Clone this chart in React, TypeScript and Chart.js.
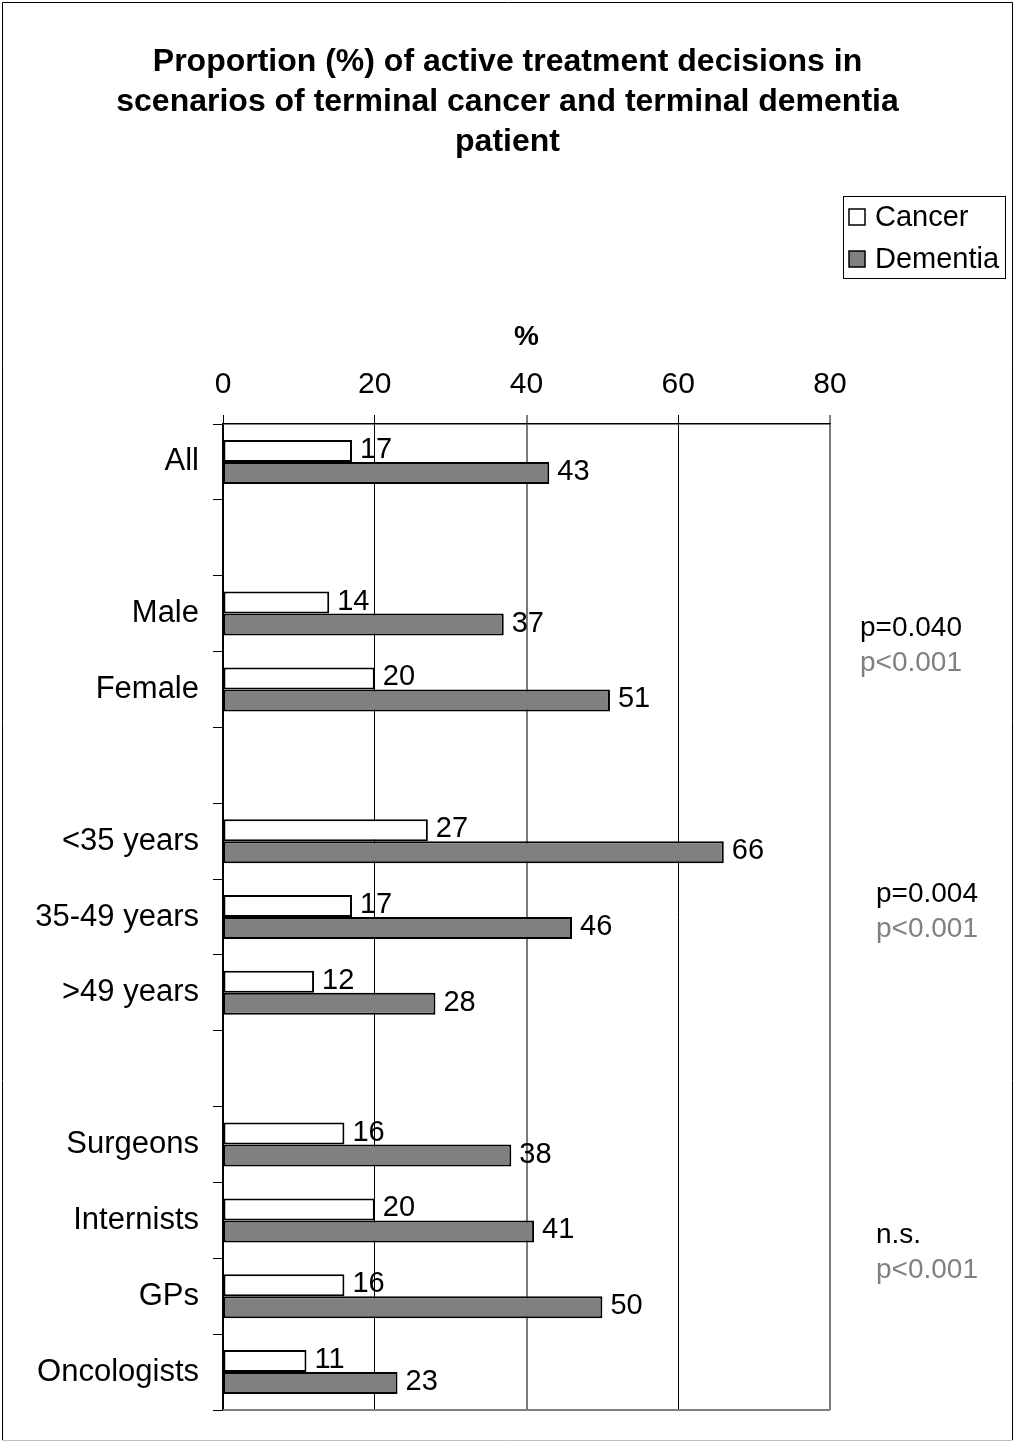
import React, { useEffect, useRef } from "react";
import { Chart, registerables } from "chart.js";
Chart.register(...registerables);

const titleLines = [
  "Proportion (%) of active treatment decisions in",
  "scenarios of terminal cancer and terminal dementia",
  "patient",
];
const categories = [
  "All", "", "Male", "Female", "", "<35 years", "35-49 years", ">49 years", "",
  "Surgeons", "Internists", "GPs", "Oncologists",
];
const cancer = [17, null, 14, 20, null, 27, 17, 12, null, 16, 20, 16, 11];
const dementia = [43, null, 37, 51, null, 66, 46, 28, null, 38, 41, 50, 23];
const seriesNames = ["Cancer", "Dementia"];
const xTicks = [0, 20, 40, 60, 80];
const pTop = ["p=0.040", "p=0.004", "n.s."];
const pBottom = ["p<0.001", "p<0.001", "p<0.001"];
const pGroupCenter = [2.5, 6, 10.5];

const FONT = "'Liberation Sans', Arial, Helvetica, sans-serif";
const FILL = ["#ffffff", "#808080"];

const App = () => {
  const ref = useRef<HTMLCanvasElement>(null);
  useEffect(() => {
    document.body.style.margin = "0";
    const canvas = ref.current!;
    const extras = {
      id: "extras",
      beforeDraw(chart: any) {
        const ctx = chart.ctx;
        ctx.save();
        ctx.fillStyle = "#fff";
        ctx.fillRect(0, 0, chart.width, chart.height);
        ctx.restore();
      },
      afterDatasetsDraw(chart: any) {
        const ctx = chart.ctx;
        ctx.save();
        ctx.font = `29px ${FONT}`;
        ctx.fillStyle = "#000";
        ctx.textAlign = "left";
        ctx.textBaseline = "middle";
        chart.data.datasets.forEach((ds: any, di: number) => {
          const meta = chart.getDatasetMeta(di);
          meta.data.forEach((el: any, i: number) => {
            const v = ds.data[i];
            if (v == null) return;
            ctx.fillText(String(v), el.x + 8, el.y - 1);
          });
        });
        ctx.restore();
      },
      afterDraw(chart: any) {
        const ctx = chart.ctx;
        const ca = chart.chartArea;
        const y = chart.scales.y;
        ctx.save();
        // bottom frame of plot
        ctx.strokeStyle = "#808080";
        ctx.lineWidth = 2;
        ctx.beginPath();
        ctx.moveTo(ca.left, ca.bottom);
        ctx.lineTo(ca.right, ca.bottom);
        ctx.stroke();
        // p-values
        ctx.font = `28px ${FONT}`;
        ctx.textAlign = "left";
        ctx.textBaseline = "middle";
        pTop.forEach((t, i) => {
          const cy = y.getPixelForValue(pGroupCenter[i]) - 6;
          const x = i === 0 ? ca.right + 30 : ca.right + 46;
          ctx.fillStyle = "#000";
          ctx.fillText(t, x, cy - 17);
          ctx.fillStyle = "#808080";
          ctx.fillText(pBottom[i], x, cy + 18);
        });
        // legend
        ctx.strokeStyle = "#000";
        ctx.lineWidth = 1;
        ctx.strokeRect(843.5, 196.5, 162, 82);
        ctx.font = `29px ${FONT}`;
        seriesNames.forEach((n, i) => {
          const cy = 217 + i * 42;
          ctx.fillStyle = FILL[i];
          ctx.fillRect(849, cy - 8, 16, 16);
          ctx.lineWidth = 1.5;
          ctx.strokeStyle = "#000";
          ctx.strokeRect(849, cy - 8, 16, 16);
          ctx.fillStyle = "#000";
          ctx.fillText(n, 875, cy + 1);
        });
        // outer frame
        ctx.lineWidth = 1;
        ctx.strokeStyle = "#000";
        ctx.beginPath();
        ctx.moveTo(2.5, 1440);
        ctx.lineTo(2.5, 2.5);
        ctx.lineTo(1012.5, 2.5);
        ctx.lineTo(1012.5, 1440);
        ctx.stroke();
        ctx.strokeStyle = "#c0c0c0";
        ctx.beginPath();
        ctx.moveTo(2.5, 1440.5);
        ctx.lineTo(1012.5, 1440.5);
        ctx.stroke();
        ctx.restore();
      },
    };

    const gridColor = (c: any) =>
      c.tick && (c.tick.value === 40 || c.tick.value === 80) ? "#7a7a7a" : "#000";
    const gridWidth = (c: any) =>
      c.tick && (c.tick.value === 40 || c.tick.value === 80) ? 2 : 1;

    const chart = new Chart(canvas, {
      type: "bar",
      data: {
        labels: categories,
        datasets: [
          {
            label: seriesNames[0],
            data: cancer,
            backgroundColor: FILL[0],
            borderColor: "#000",
            borderWidth: 2,
            borderSkipped: false,
            barPercentage: 1,
            categoryPercentage: 0.58,
          },
          {
            label: seriesNames[1],
            data: dementia,
            backgroundColor: FILL[1],
            borderColor: "#000",
            borderWidth: 2,
            borderSkipped: false,
            barPercentage: 1,
            categoryPercentage: 0.58,
          },
        ],
      },
      options: {
        indexAxis: "y",
        responsive: false,
        animation: false,
        devicePixelRatio: 1,
        layout: { padding: { left: 0, right: 0, top: 0, bottom: 33 } },
        plugins: {
          legend: { display: false },
          tooltip: { enabled: false },
          title: {
            display: true,
            text: titleLines,
            color: "#000",
            font: { family: FONT, size: 32, weight: "bold", lineHeight: 40 / 32 },
            padding: { top: 42, bottom: 0 },
          },
        },
        scales: {
          x: {
            position: "top",
            min: 0,
            max: 80,
            afterBuildTicks: (s: any) => {
              s.ticks = xTicks.map((v) => ({ value: v }));
            },
            afterFit: (s: any) => {
              s.height = 262;
            },
            ticks: {
              color: "#000",
              padding: 12,
              font: { family: FONT, size: 30 },
            },
            grid: {
              color: gridColor,
              lineWidth: gridWidth,
              tickColor: "#000",
              tickWidth: 1,
              tickLength: 9,
            },
            border: { color: "#000", width: 1.5 },
            title: {
              display: true,
              text: "%",
              color: "#000",
              font: { family: FONT, size: 28, weight: "bold" },
              padding: { top: 158, bottom: 0 },
            },
          },
          y: {
            afterFit: (s: any) => {
              s.width = 223;
            },
            ticks: {
              color: "#000",
              padding: 14,
              font: { family: FONT, size: 31 },
              autoSkip: false,
            },
            grid: {
              offset: true,
              drawOnChartArea: false,
              color: "#000",
              tickLength: 10,
              lineWidth: 1,
            },
            border: { color: "#000", width: 1.5 },
          },
          rightSpace: {
            type: "linear",
            axis: "y",
            position: "right",
            display: true,
            ticks: { display: false },
            grid: { display: false, drawTicks: false },
            border: { display: false },
            afterFit: (s: any) => {
              s.width = 185;
            },
          },
        },
      },
      plugins: [extras],
    } as any);
    return () => chart.destroy();
  }, []);
  return <canvas ref={ref} width={1015} height={1443} style={{ display: "block" }} />;
};

export default App;
